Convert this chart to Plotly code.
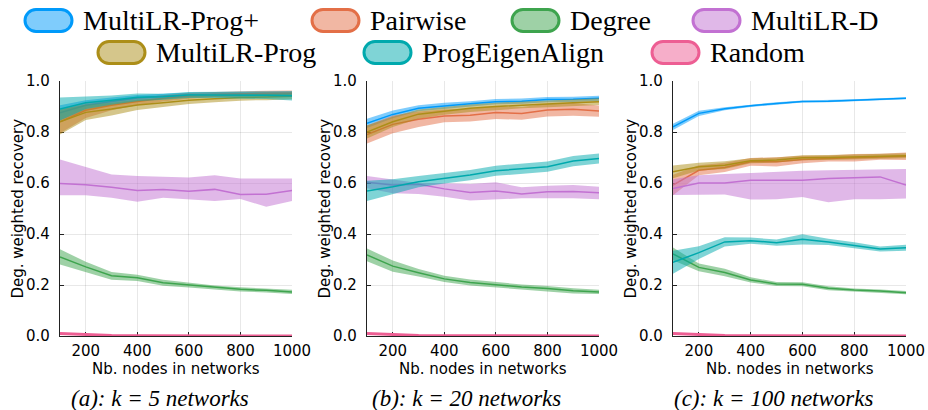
import plotly.graph_objects as go

W, H = 928, 410

X_NODES = [100, 200, 300, 400, 500, 600, 700, 800, 900, 1000]
X_TICKS = [200, 400, 600, 800, 1000]
Y_TICKS = [0.0, 0.2, 0.4, 0.6, 0.8, 1.0]

SERIES_NAMES = ["MultiLR-Prog+", "Pairwise", "Degree", "MultiLR-D",
                "MultiLR-Prog", "ProgEigenAlign", "Random"]
PANEL_CAPTIONS = ["(a): k = 5 networks", "(b): k = 20 networks",
                  "(c): k = 100 networks"]

# each list holds three panels: k=5, k=20, k=100
PROG_PLUS_MEAN = [
    [0.875, 0.905, 0.92, 0.933, 0.94, 0.945, 0.947, 0.948, 0.95, 0.95],
    [0.834, 0.869, 0.893, 0.903, 0.911, 0.919, 0.921, 0.927, 0.928, 0.932],
    [0.82, 0.873, 0.891, 0.903, 0.912, 0.92, 0.921, 0.924, 0.928, 0.932],
]
PROG_PLUS_ERR = [
    [0.03, 0.02, 0.015, 0.012, 0.01, 0.01, 0.01, 0.01, 0.01, 0.01],
    [0.018, 0.015, 0.012, 0.012, 0.01, 0.01, 0.01, 0.01, 0.01, 0.01],
    [0.012, 0.01, 0.006, 0.005, 0.005, 0.004, 0.004, 0.004, 0.004, 0.004],
]
PAIRWISE_MEAN = [
    [0.84, 0.885, 0.905, 0.92, 0.932, 0.942, 0.947, 0.95, 0.952, 0.953],
    [0.79, 0.83, 0.85, 0.863, 0.866, 0.876, 0.873, 0.886, 0.889, 0.882],
    [0.592, 0.65, 0.661, 0.683, 0.683, 0.692, 0.696, 0.699, 0.703, 0.705],
]
PAIRWISE_ERR = [
    [0.045, 0.03, 0.02, 0.015, 0.012, 0.012, 0.01, 0.01, 0.01, 0.01],
    [0.035, 0.035, 0.03, 0.025, 0.025, 0.025, 0.025, 0.025, 0.025, 0.022],
    [0.04, 0.02, 0.018, 0.015, 0.018, 0.015, 0.012, 0.015, 0.012, 0.015],
]
DEGREE_MEAN = [
    [0.31, 0.271, 0.236, 0.228, 0.209, 0.2, 0.19, 0.183, 0.179, 0.173],
    [0.318, 0.274, 0.248, 0.224, 0.21, 0.201, 0.192, 0.186, 0.177, 0.173],
    [0.322, 0.269, 0.249, 0.22, 0.204, 0.203, 0.187, 0.18, 0.176, 0.17],
]
DEGREE_ERR = [
    [0.03, 0.02, 0.015, 0.012, 0.012, 0.01, 0.008, 0.008, 0.008, 0.008],
    [0.025, 0.022, 0.015, 0.012, 0.012, 0.01, 0.01, 0.01, 0.01, 0.008],
    [0.025, 0.015, 0.015, 0.01, 0.008, 0.008, 0.008, 0.006, 0.006, 0.006],
]
MULTILR_D_MEAN = [
    [0.598, 0.593, 0.583, 0.571, 0.575, 0.568, 0.575, 0.555, 0.556, 0.571],
    [0.603, 0.592, 0.595, 0.577, 0.563, 0.569, 0.557, 0.566, 0.567, 0.562],
    [0.578, 0.6, 0.6, 0.611, 0.611, 0.611, 0.618, 0.62, 0.624, 0.592],
]
MULTILR_D_LO = [
    [0.552, 0.552, 0.542, 0.526, 0.542, 0.535, 0.529, 0.537, 0.507, 0.529],
    [0.579, 0.56, 0.557, 0.546, 0.531, 0.536, 0.54, 0.54, 0.54, 0.536],
    [0.553, 0.555, 0.555, 0.535, 0.536, 0.545, 0.525, 0.536, 0.536, 0.539],
]
MULTILR_D_HI = [
    [0.692, 0.664, 0.633, 0.627, 0.624, 0.622, 0.63, 0.618, 0.618, 0.618],
    [0.627, 0.614, 0.6, 0.599, 0.596, 0.603, 0.583, 0.589, 0.592, 0.585],
    [0.615, 0.63, 0.635, 0.64, 0.645, 0.648, 0.65, 0.652, 0.655, 0.655],
]
PROG_MEAN = [
    [0.84, 0.877, 0.89, 0.906, 0.915, 0.925, 0.93, 0.935, 0.937, 0.94],
    [0.80, 0.84, 0.87, 0.883, 0.893, 0.90, 0.906, 0.91, 0.915, 0.919],
    [0.644, 0.664, 0.67, 0.687, 0.69, 0.699, 0.70, 0.703, 0.705, 0.707],
]
PROG_ERR = [
    [0.05, 0.03, 0.025, 0.02, 0.017, 0.015, 0.013, 0.012, 0.012, 0.012],
    [0.025, 0.02, 0.018, 0.015, 0.015, 0.015, 0.013, 0.013, 0.013, 0.013],
    [0.025, 0.015, 0.015, 0.01, 0.01, 0.01, 0.01, 0.01, 0.01, 0.01],
]
EIGEN_MEAN = [
    [0.89, 0.915, 0.925, 0.936, 0.938, 0.945, 0.945, 0.945, 0.944, 0.942],
    [0.569, 0.585, 0.605, 0.618, 0.631, 0.648, 0.657, 0.664, 0.686, 0.696],
    [0.289, 0.327, 0.369, 0.374, 0.366, 0.379, 0.369, 0.356, 0.341, 0.346],
]
EIGEN_ERR = [
    [0.045, 0.025, 0.018, 0.015, 0.012, 0.012, 0.012, 0.013, 0.015, 0.018],
    [0.04, 0.03, 0.022, 0.02, 0.02, 0.02, 0.02, 0.02, 0.02, 0.02],
    [0.045, 0.025, 0.018, 0.012, 0.012, 0.02, 0.012, 0.012, 0.01, 0.012],
]
RANDOM_MEAN = [
    [0.01, 0.005, 0.002, 0.001, 0.0005, 0.0, 0.0, 0.0, 0.0, 0.0],
    [0.01, 0.005, 0.002, 0.001, 0.0005, 0.0, 0.0, 0.0, 0.0, 0.0],
    [0.01, 0.005, 0.002, 0.001, 0.0005, 0.0, 0.0, 0.0, 0.0, 0.0],
]
RANDOM_ERR = [
    [0.002, 0.002, 0.001, 0.001, 0.0005, 0.0, 0.0, 0.0, 0.0, 0.0],
    [0.002, 0.002, 0.001, 0.001, 0.0005, 0.0, 0.0, 0.0, 0.0, 0.0],
    [0.002, 0.002, 0.001, 0.001, 0.0005, 0.0, 0.0, 0.0, 0.0, 0.0],
]

COLORS = [(0, 154, 250), (227, 111, 71), (62, 164, 78), (194, 113, 210),
          (172, 142, 24), (0, 169, 173), (237, 94, 147)]
LINE_WIDTHS = [1.5, 1.5, 1.5, 1.5, 1.5, 1.5, 3.0]


def sym(mean, err):
    return [m - e for m, e in zip(mean, err)], [m + e for m, e in zip(mean, err)]


def series_for_panel(p):
    out = []
    for mean, err in [(PROG_PLUS_MEAN, PROG_PLUS_ERR), (PAIRWISE_MEAN, PAIRWISE_ERR),
                      (DEGREE_MEAN, DEGREE_ERR)]:
        lo, hi = sym(mean[p], err[p])
        out.append((mean[p], lo, hi))
    out.append((MULTILR_D_MEAN[p], MULTILR_D_LO[p], MULTILR_D_HI[p]))
    for mean, err in [(PROG_MEAN, PROG_ERR), (EIGEN_MEAN, EIGEN_ERR), (RANDOM_MEAN, RANDOM_ERR)]:
        lo, hi = sym(mean[p], err[p])
        out.append((mean[p], lo, hi))
    return out


# pixel layout
PLOT_LEFT = [60, 367, 673]
PLOT_RIGHT = [292, 599, 906]
PLOT_TOP, PLOT_BOTTOM = 81, 336

fig = go.Figure()

TICK_FONT = dict(family="DejaVu Sans", size=15, color="black")
TITLE_FONT = dict(family="DejaVu Sans", size=15, color="black")

for p in range(3):
    xa = "x" if p == 0 else f"x{p+1}"
    ya = "y" if p == 0 else f"y{p+1}"
    for i, (mean, lo, hi) in enumerate(series_for_panel(p)):
        r, g, b = COLORS[i]
        fig.add_trace(go.Scatter(x=X_NODES, y=lo, mode="lines", line=dict(width=0),
                                 showlegend=False, hoverinfo="skip", xaxis=xa, yaxis=ya))
        fig.add_trace(go.Scatter(x=X_NODES, y=hi, mode="lines", line=dict(width=0),
                                 fill="tonexty", fillcolor=f"rgba({r},{g},{b},0.5)",
                                 showlegend=False, hoverinfo="skip", xaxis=xa, yaxis=ya))
        fig.add_trace(go.Scatter(x=X_NODES, y=mean, mode="lines",
                                 line=dict(color=f"rgb({r},{g},{b})", width=LINE_WIDTHS[i]),
                                 name=SERIES_NAMES[i], showlegend=False, xaxis=xa, yaxis=ya))

    xkey = "xaxis" if p == 0 else f"xaxis{p+1}"
    ykey = "yaxis" if p == 0 else f"yaxis{p+1}"
    fig.update_layout(**{
        xkey: dict(domain=[PLOT_LEFT[p] / W, PLOT_RIGHT[p] / W], range=[100, 1000],
                   tickvals=X_TICKS, ticks="inside", ticklen=4, tickcolor="#222",
                   showline=True, linecolor="#222", linewidth=1.3,
                   showgrid=True, gridcolor="rgba(0,0,0,0.09)", gridwidth=1,
                   zeroline=False, tickfont=TICK_FONT, anchor=ya, ticklabelstandoff=1,
                   automargin=False, layer="below traces"),
        ykey: dict(domain=[1 - PLOT_BOTTOM / H, 1 - PLOT_TOP / H], range=[0, 1],
                   tickvals=Y_TICKS, tickformat=".1f", ticks="inside", ticklen=4,
                   tickcolor="#222", showline=True, linecolor="#222", linewidth=1.3,
                   showgrid=True, gridcolor="rgba(0,0,0,0.09)", gridwidth=1,
                   zeroline=False, tickfont=TICK_FONT, anchor=xa, ticklabelstandoff=6,
                   automargin=False, layer="below traces"),
    })
    cx = (PLOT_LEFT[p] + PLOT_RIGHT[p]) / 2
    fig.add_annotation(text="Nb. nodes in networks", x=cx / W, y=1 - 369 / H,
                       xref="paper", yref="paper", showarrow=False, font=TITLE_FONT,
                       xanchor="center", yanchor="middle")
    fig.add_annotation(text="Deg. weighted recovery", x=(PLOT_LEFT[p] - 43) / W,
                       y=1 - (PLOT_TOP + PLOT_BOTTOM) / 2 / H, textangle=-90,
                       xref="paper", yref="paper", showarrow=False, font=TITLE_FONT,
                       xanchor="center", yanchor="middle")
    fig.add_annotation(text="<i>" + PANEL_CAPTIONS[p] + "</i>", x=(cx - 16) / W, y=1 - 398 / H,
                       xref="paper", yref="paper", showarrow=False,
                       font=dict(family="Liberation Serif", size=23, color="black"),
                       xanchor="center", yanchor="middle")

# manual legend (pill-shaped swatches)
LEGEND_BOX_X = [25, 312, 512, 693, 98, 364, 652]
LEGEND_ROW_Y = [20.5, 20.5, 20.5, 20.5, 52.5, 52.5, 52.5]
BOX_W, BOX_H = 47, 22


def px(x, y):
    return f"{x / W:.5f},{1 - y / H:.5f}"


def pill(x0, yc, w, h):
    r = h / 2
    k = 0.5523 * r
    y0, y1 = yc - r, yc + r
    x1 = x0 + w
    return (f"M{px(x0 + r, y0)} L{px(x1 - r, y0)} "
            f"C{px(x1 - r + k, y0)} {px(x1, yc - k)} {px(x1, yc)} "
            f"C{px(x1, yc + k)} {px(x1 - r + k, y1)} {px(x1 - r, y1)} "
            f"L{px(x0 + r, y1)} "
            f"C{px(x0 + r - k, y1)} {px(x0, yc + k)} {px(x0, yc)} "
            f"C{px(x0, yc - k)} {px(x0 + r - k, y0)} {px(x0 + r, y0)} Z")


for i, name in enumerate(SERIES_NAMES):
    r, g, b = COLORS[i]
    bx, by = LEGEND_BOX_X[i], LEGEND_ROW_Y[i]
    fig.add_shape(type="path", path=pill(bx, by, BOX_W, BOX_H), xref="paper", yref="paper",
                  fillcolor=f"rgba({r},{g},{b},0.5)", line=dict(color=f"rgb({r},{g},{b})", width=3))
    fig.add_annotation(text=name, x=(bx + BOX_W + 9) / W, y=1 - by / H, xref="paper", yref="paper",
                       showarrow=False, xanchor="left", yanchor="middle",
                       font=dict(family="Liberation Serif", size=28, color="black"))

fig.update_layout(width=W, height=H,
                  margin=dict(l=0, r=0, t=0, b=0, pad=0, autoexpand=False),
                  paper_bgcolor="white", plot_bgcolor="white", showlegend=False)

fig.write_html("out.html")
